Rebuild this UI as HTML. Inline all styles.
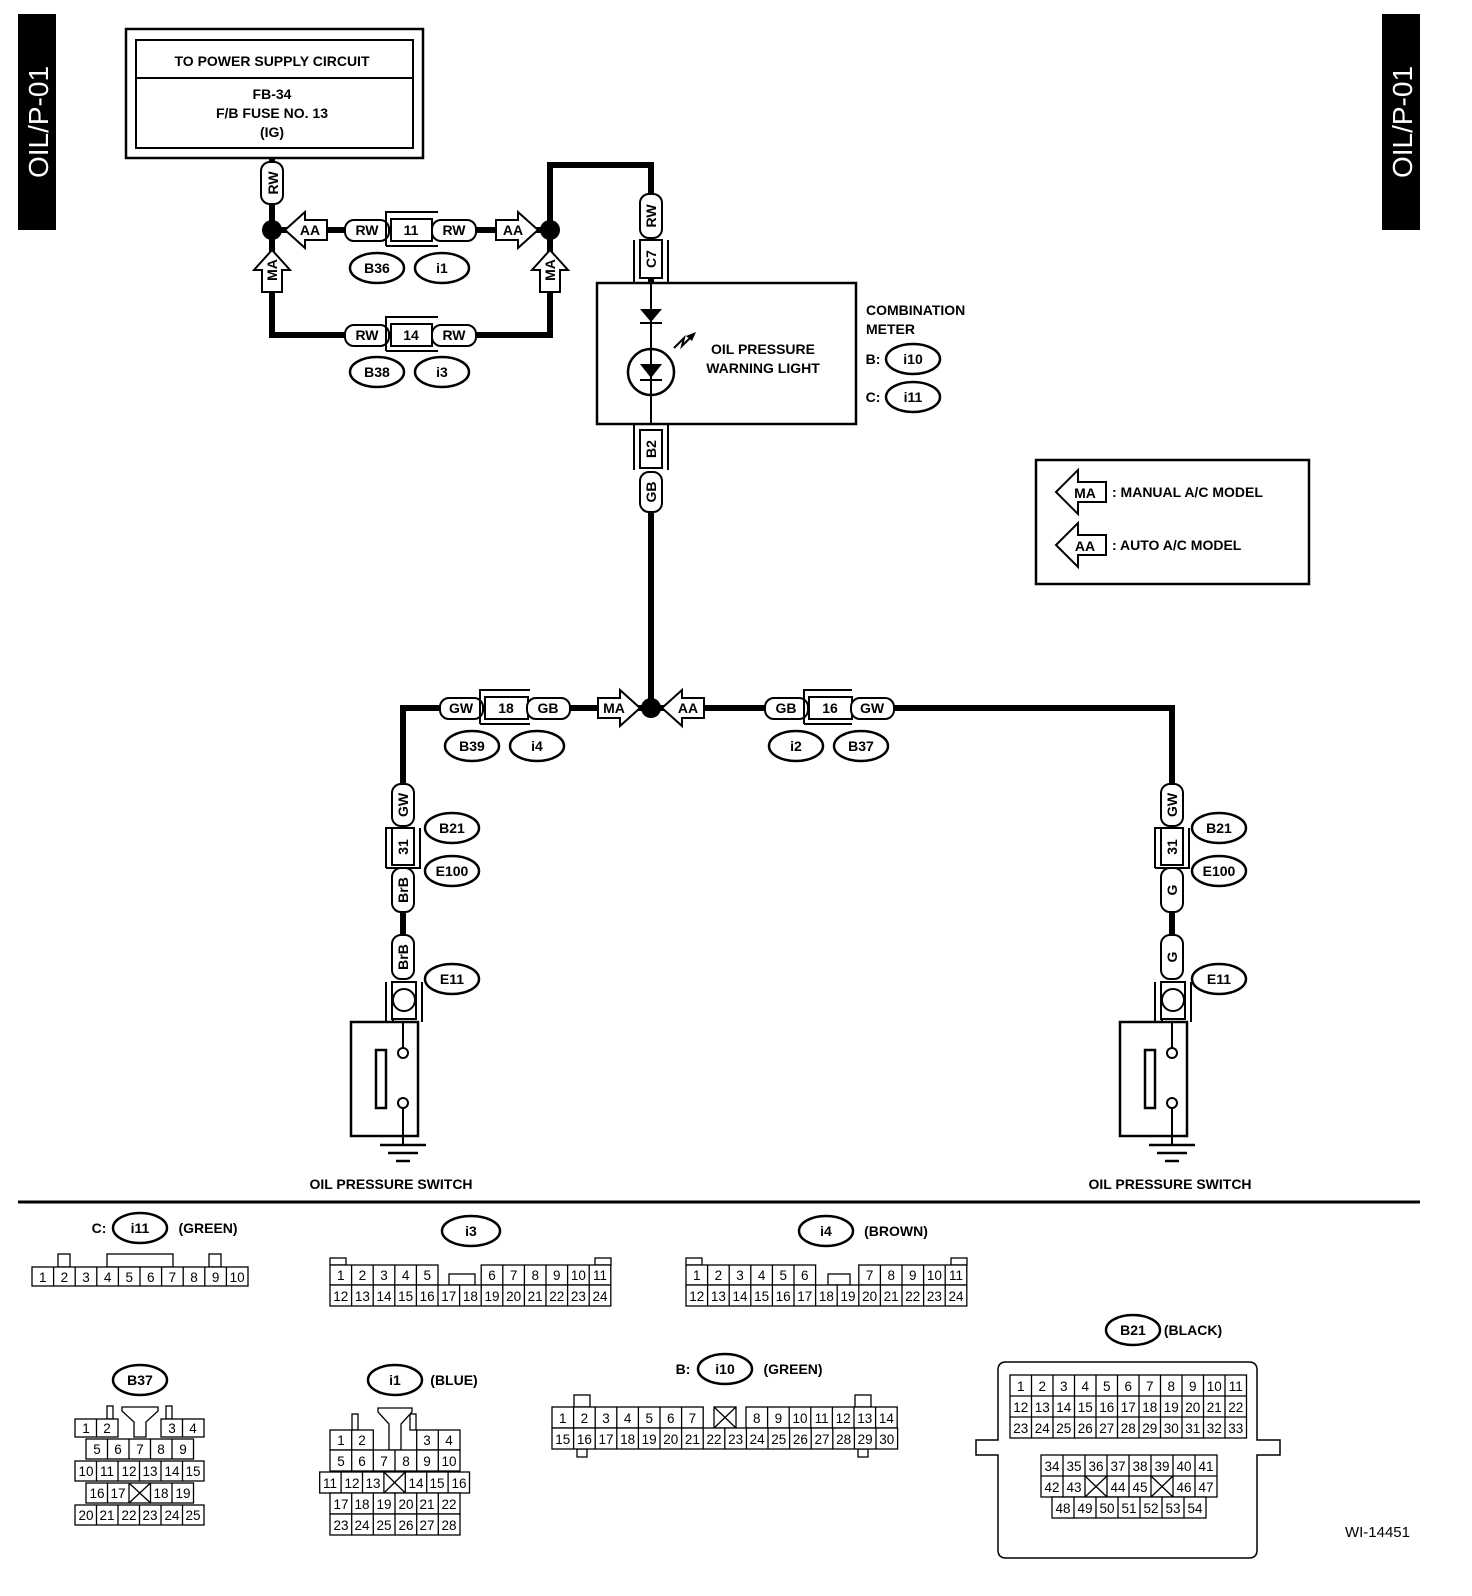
<!DOCTYPE html>
<html><head><meta charset="utf-8"><style>
html,body{margin:0;padding:0;background:#fff}
svg{display:block}
text{font-family:"Liberation Sans",Arial,sans-serif}
.b{font-weight:bold;font-size:14px}
.n{font-size:13.5px}
.w{stroke:#000;stroke-width:6;fill:none}
.t{stroke:#000;stroke-width:2;fill:#fff}
.o{stroke:#000;stroke-width:2.5;fill:#fff}
.g{stroke:#000;stroke-width:1.3;fill:#fff}
</style></head><body>
<svg width="1472" height="1596" viewBox="0 0 1472 1596" xmlns="http://www.w3.org/2000/svg" text-anchor="middle">
<!-- side tabs -->
<rect x="18" y="14" width="38" height="216" fill="#000"/>
<text transform="translate(48,122) rotate(-90)" fill="#fff" font-size="28">OIL/P-01</text>
<rect x="1382" y="14" width="38" height="216" fill="#000"/>
<text transform="translate(1412,122) rotate(-90)" fill="#fff" font-size="28">OIL/P-01</text>

<!-- power box -->
<rect x="126" y="29" width="297" height="129" fill="none" stroke="#000" stroke-width="2.5"/>
<rect x="136" y="40" width="277" height="108" fill="none" stroke="#000" stroke-width="2"/>
<line x1="136" y1="78" x2="413" y2="78" stroke="#000" stroke-width="2"/>
<text x="272" y="66" class="b" font-weight="normal">TO POWER SUPPLY CIRCUIT</text>
<text x="272" y="99" class="b">FB-34</text>
<text x="272" y="118" class="b">F/B FUSE NO. 13</text>
<text x="272" y="137" class="b">(IG)</text>

<!-- wires top -->
<path class="w" d="M272 158 V335 H550 V230 M272 230 H550 M550 230 V165 H651 V283"/>
<circle cx="272" cy="230" r="10"/>
<circle cx="550" cy="230" r="10"/>
<!-- RW vertical under box -->
<rect x="261" y="162" width="22" height="42" rx="9" class="t"/>
<text transform="translate(278,183) rotate(-90)" class="b" font-size="12">RW</text>

<!-- top row items -->
<g transform="translate(285,230) scale(-1,1)"><polygon class="t" points="0,0 -20,-18 -20,-10 -42,-10 -42,10 -20,10 -20,18"/></g>
<text x="310" y="235" class="b">AA</text>
<rect x="345" y="220" width="44" height="21" rx="9" class="t"/><text x="367" y="235" class="b">RW</text>
<path d="M386 246 V212 H438" fill="none" stroke="#000" stroke-width="2"/>
<path d="M386 246 H438" fill="none" stroke="#000" stroke-width="2"/>
<rect x="391" y="219" width="41" height="22" class="t"/><text x="411" y="235" class="b">11</text>
<rect x="432" y="220" width="44" height="21" rx="9" class="t"/><text x="454" y="235" class="b">RW</text>
<g transform="translate(538,230)"><polygon class="t" points="0,0 -20,-18 -20,-10 -42,-10 -42,10 -20,10 -20,18"/></g>
<text x="513" y="235" class="b">AA</text>
<ellipse cx="377" cy="268" rx="27" ry="15" class="o"/><text x="377" y="273" class="b">B36</text>
<ellipse cx="442" cy="268" rx="27" ry="15" class="o"/><text x="442" y="273" class="b">i1</text>

<!-- MA vertical arrows -->
<g transform="translate(272,250) rotate(-90)"><polygon class="t" points="0,0 -20,-18 -20,-10 -42,-10 -42,10 -20,10 -20,18"/></g>
<text transform="translate(277,270) rotate(-90)" class="b">MA</text>
<g transform="translate(550,250) rotate(-90)"><polygon class="t" points="0,0 -20,-18 -20,-10 -42,-10 -42,10 -20,10 -20,18"/></g>
<text transform="translate(555,270) rotate(-90)" class="b">MA</text>

<!-- bottom loop items -->
<rect x="345" y="325" width="44" height="21" rx="9" class="t"/><text x="367" y="340" class="b">RW</text>
<path d="M386 351 V317 H438 M386 351 H438" fill="none" stroke="#000" stroke-width="2"/>
<rect x="391" y="324" width="41" height="22" class="t"/><text x="411" y="340" class="b">14</text>
<rect x="432" y="325" width="44" height="21" rx="9" class="t"/><text x="454" y="340" class="b">RW</text>
<ellipse cx="377" cy="372" rx="27" ry="15" class="o"/><text x="377" y="377" class="b">B38</text>
<ellipse cx="442" cy="372" rx="27" ry="15" class="o"/><text x="442" y="377" class="b">i3</text>

<!-- RW / C7 on meter input -->
<rect x="640" y="194" width="22" height="44" rx="9" class="t"/>
<text transform="translate(656,216) rotate(-90)" class="b" font-size="13">RW</text>
<path d="M634 283 V240 M668 283 V240" stroke="#000" stroke-width="2"/>
<rect x="640" y="240" width="22" height="38" class="t"/>
<text transform="translate(656,259) rotate(-90)" class="b" font-size="13">C7</text>

<!-- meter box -->
<rect x="597" y="283" width="259" height="141" fill="none" stroke="#000" stroke-width="2.5"/>
<line x1="651" y1="283" x2="651" y2="424" stroke="#000" stroke-width="2"/>
<polygon points="640,309 662,309 651,322"/>
<line x1="640" y1="323" x2="662" y2="323" stroke="#000" stroke-width="2"/>
<circle cx="661" cy="372" r="0" />
<circle cx="651" cy="372" r="23" fill="none" stroke="#000" stroke-width="2.5"/>
<polygon points="640,364 662,364 651,378"/>
<line x1="640" y1="380" x2="662" y2="380" stroke="#000" stroke-width="2"/>
<path d="M674 348 L684 338 L682 346 L692 336" fill="none" stroke="#000" stroke-width="2"/>
<polygon points="696,332 686,336 692,341"/>
<text x="763" y="354" class="b">OIL PRESSURE</text>
<text x="763" y="373" class="b">WARNING LIGHT</text>
<text x="866" y="315" class="b" text-anchor="start">COMBINATION</text>
<text x="866" y="334" class="b" text-anchor="start">METER</text>
<text x="873" y="364" class="b">B:</text>
<ellipse cx="913" cy="359" rx="27" ry="15" class="o"/><text x="913" y="364" class="b">i10</text>
<text x="873" y="402" class="b">C:</text>
<ellipse cx="913" cy="397" rx="27" ry="15" class="o"/><text x="913" y="402" class="b">i11</text>

<!-- B2/GB -->
<path d="M634 424 V470 M668 424 V470" stroke="#000" stroke-width="2"/>
<rect x="640" y="430" width="22" height="38" class="t"/>
<text transform="translate(656,449) rotate(-90)" class="b" font-size="13">B2</text>
<path class="w" d="M651 510 V708"/>
<rect x="640" y="472" width="22" height="40" rx="9" class="t"/>
<text transform="translate(656,492) rotate(-90)" class="b" font-size="13">GB</text>

<!-- legend -->
<rect x="1036" y="460" width="273" height="124" fill="none" stroke="#000" stroke-width="2.5"/>
<g transform="translate(1056,492) scale(-1,1)"><polygon class="t" points="0,0 -22,-22 -22,-10 -50,-10 -50,10 -22,10 -22,22"/></g>
<text x="1085" y="498" class="b">MA</text>
<text x="1112" y="497" class="b" text-anchor="start">: MANUAL A/C MODEL</text>
<g transform="translate(1056,545) scale(-1,1)"><polygon class="t" points="0,0 -22,-22 -22,-10 -50,-10 -50,10 -22,10 -22,22"/></g>
<text x="1085" y="551" class="b">AA</text>
<text x="1112" y="550" class="b" text-anchor="start">: AUTO A/C MODEL</text>

<!-- horizontal lower wire -->
<path class="w" d="M403 785 V708 H1172 V785"/>
<circle cx="651" cy="708" r="10"/>
<rect x="440" y="698" width="43" height="21" rx="9" class="t"/><text x="461" y="713" class="b">GW</text>
<path d="M480 724 V690 H530 M480 724 H530" fill="none" stroke="#000" stroke-width="2"/>
<rect x="485" y="697" width="43" height="22" class="t"/><text x="506" y="713" class="b">18</text>
<rect x="527" y="698" width="43" height="21" rx="9" class="t"/><text x="548" y="713" class="b">GB</text>
<g transform="translate(640,708)"><polygon class="t" points="0,0 -20,-18 -20,-10 -42,-10 -42,10 -20,10 -20,18"/></g>
<text x="614" y="713" class="b">MA</text>
<g transform="translate(662,708) scale(-1,1)"><polygon class="t" points="0,0 -20,-18 -20,-10 -42,-10 -42,10 -20,10 -20,18"/></g>
<text x="688" y="713" class="b">AA</text>
<rect x="765" y="698" width="43" height="21" rx="9" class="t"/><text x="786" y="713" class="b">GB</text>
<path d="M804 724 V690 H852 M804 724 H852" fill="none" stroke="#000" stroke-width="2"/>
<rect x="809" y="697" width="43" height="22" class="t"/><text x="830" y="713" class="b">16</text>
<rect x="851" y="698" width="43" height="21" rx="9" class="t"/><text x="872" y="713" class="b">GW</text>
<ellipse cx="472" cy="746" rx="27" ry="15" class="o"/><text x="472" y="751" class="b">B39</text>
<ellipse cx="537" cy="746" rx="27" ry="15" class="o"/><text x="537" y="751" class="b">i4</text>
<ellipse cx="796" cy="746" rx="27" ry="15" class="o"/><text x="796" y="751" class="b">i2</text>
<ellipse cx="861" cy="746" rx="27" ry="15" class="o"/><text x="861" y="751" class="b">B37</text>

<!-- left branch -->
<g>
<path class="w" d="M403 905 V945"/>
<rect x="392" y="784" width="22" height="42" rx="9" class="t"/>
<text transform="translate(408,805) rotate(-90)" class="b" font-size="13">GW</text>
<path d="M386 868 V828 H414 M386 868 H420 V828" fill="none" stroke="#000" stroke-width="2"/>
<rect x="392" y="828" width="22" height="37" class="t"/>
<text transform="translate(408,847) rotate(-90)" class="b" font-size="13">31</text>
<rect x="392" y="868" width="22" height="44" rx="9" class="t"/>
<text transform="translate(408,890) rotate(-90)" class="b" font-size="13">BrB</text>
<rect x="392" y="935" width="22" height="44" rx="9" class="t"/>
<text transform="translate(408,957) rotate(-90)" class="b" font-size="13">BrB</text>
<path d="M393 1022 V982 M422 1022 V982 M386 1022 V982" fill="none" stroke="#000" stroke-width="2"/>
<rect x="392" y="982" width="24" height="37" class="t"/>
<circle cx="404" cy="1000" r="11" fill="none" stroke="#000" stroke-width="2"/>
<ellipse cx="452" cy="828" rx="27" ry="15" class="o"/><text x="452" y="833" class="b">B21</text>
<ellipse cx="452" cy="871" rx="27" ry="15" class="o"/><text x="452" y="876" class="b">E100</text>
<ellipse cx="452" cy="979" rx="27" ry="15" class="o"/><text x="452" y="984" class="b">E11</text>
<rect x="351" y="1022" width="67" height="114" fill="none" stroke="#000" stroke-width="2.5"/>
<rect x="376" y="1050" width="10" height="58" fill="none" stroke="#000" stroke-width="2.5"/>
<path d="M403 1022 V1048 M403 1108 V1145" stroke="#000" stroke-width="2"/>
<circle cx="403" cy="1053" r="5" fill="#fff" stroke="#000" stroke-width="2"/>
<circle cx="403" cy="1103" r="5" fill="#fff" stroke="#000" stroke-width="2"/>
<path d="M380 1145 H426 M388 1153 H418 M396 1161 H410" stroke="#000" stroke-width="2.5"/>
<text x="391" y="1189" class="b">OIL PRESSURE SWITCH</text>
</g>
<!-- right branch -->
<g transform="translate(769,0)">
<path class="w" d="M403 905 V945"/>
<rect x="392" y="784" width="22" height="42" rx="9" class="t"/>
<text transform="translate(408,805) rotate(-90)" class="b" font-size="13">GW</text>
<path d="M386 868 V828 H414 M386 868 H420 V828" fill="none" stroke="#000" stroke-width="2"/>
<rect x="392" y="828" width="22" height="37" class="t"/>
<text transform="translate(408,847) rotate(-90)" class="b" font-size="13">31</text>
<rect x="392" y="868" width="22" height="44" rx="9" class="t"/>
<text transform="translate(408,890) rotate(-90)" class="b" font-size="13">G</text>
<rect x="392" y="935" width="22" height="44" rx="9" class="t"/>
<text transform="translate(408,957) rotate(-90)" class="b" font-size="13">G</text>
<path d="M393 1022 V982 M422 1022 V982 M386 1022 V982" fill="none" stroke="#000" stroke-width="2"/>
<rect x="392" y="982" width="24" height="37" class="t"/>
<circle cx="404" cy="1000" r="11" fill="none" stroke="#000" stroke-width="2"/>
<ellipse cx="450" cy="828" rx="27" ry="15" class="o"/><text x="450" y="833" class="b">B21</text>
<ellipse cx="450" cy="871" rx="27" ry="15" class="o"/><text x="450" y="876" class="b">E100</text>
<ellipse cx="450" cy="979" rx="27" ry="15" class="o"/><text x="450" y="984" class="b">E11</text>
<rect x="351" y="1022" width="67" height="114" fill="none" stroke="#000" stroke-width="2.5"/>
<rect x="376" y="1050" width="10" height="58" fill="none" stroke="#000" stroke-width="2.5"/>
<path d="M403 1022 V1048 M403 1108 V1145" stroke="#000" stroke-width="2"/>
<circle cx="403" cy="1053" r="5" fill="#fff" stroke="#000" stroke-width="2"/>
<circle cx="403" cy="1103" r="5" fill="#fff" stroke="#000" stroke-width="2"/>
<path d="M380 1145 H426 M388 1153 H418 M396 1161 H410" stroke="#000" stroke-width="2.5"/>
<text x="401" y="1189" class="b">OIL PRESSURE SWITCH</text>
</g>

<line x1="18" y1="1202" x2="1420" y2="1202" stroke="#000" stroke-width="3"/>

<!-- i11 -->
<text x="99" y="1233" class="b">C:</text>
<ellipse cx="140" cy="1228" rx="27" ry="15" class="o"/><text x="140" y="1233" class="b">i11</text>
<text x="208" y="1233" class="b">(GREEN)</text>
<g class="n">
<rect x="58" y="1254" width="12" height="13" class="g"/><rect x="107" y="1254" width="66" height="13" class="g"/><rect x="209" y="1254" width="12" height="13" class="g"/>
<rect x="32" y="1267" width="216" height="19" class="g"/>
<path d="M53.6 1267V1286M75.2 1267V1286M96.8 1267V1286M118.4 1267V1286M140 1267V1286M161.6 1267V1286M183.2 1267V1286M204.8 1267V1286M226.4 1267V1286" stroke="#000" stroke-width="1.3"/>
<text x="42.8" y="1282">1</text><text x="64.4" y="1282">2</text><text x="86" y="1282">3</text><text x="107.6" y="1282">4</text><text x="129.2" y="1282">5</text><text x="150.8" y="1282">6</text><text x="172.4" y="1282">7</text><text x="194" y="1282">8</text><text x="215.6" y="1282">9</text><text x="237.2" y="1282">10</text>
</g>

<!-- i3 -->
<ellipse cx="471" cy="1231" rx="29" ry="15" class="o"/><text x="471" y="1236" class="b">i3</text>
<g class="n">
<rect x="330" y="1258" width="16" height="7" class="g"/><rect x="595" y="1258" width="16" height="7" class="g"/>
<rect x="449" y="1274" width="26" height="11" class="g"/>
<rect x="330" y="1265" width="108" height="20" class="g"/><rect x="481.2" y="1265" width="129.6" height="20" class="g"/>
<rect x="330" y="1285" width="280.8" height="21" class="g"/>
<path d="M351.6 1265V1285M373.2 1265V1285M394.8 1265V1285M416.4 1265V1285M502.8 1265V1285M524.4 1265V1285M546 1265V1285M567.6 1265V1285M589.2 1265V1285 M351.6 1285V1306M373.2 1285V1306M394.8 1285V1306M416.4 1285V1306M438 1285V1306M459.6 1285V1306M481.2 1285V1306M502.8 1285V1306M524.4 1285V1306M546 1285V1306M567.6 1285V1306M589.2 1285V1306" stroke="#000" stroke-width="1.3"/>
<text x="340.8" y="1280">1</text><text x="362.4" y="1280">2</text><text x="384" y="1280">3</text><text x="405.6" y="1280">4</text><text x="427.2" y="1280">5</text>
<text x="492" y="1280">6</text><text x="513.6" y="1280">7</text><text x="535.2" y="1280">8</text><text x="556.8" y="1280">9</text><text x="578.4" y="1280">10</text><text x="600" y="1280">11</text>
<text x="340.8" y="1301">12</text><text x="362.4" y="1301">13</text><text x="384" y="1301">14</text><text x="405.6" y="1301">15</text><text x="427.2" y="1301">16</text><text x="448.8" y="1301">17</text><text x="470.4" y="1301">18</text><text x="492" y="1301">19</text><text x="513.6" y="1301">20</text><text x="535.2" y="1301">21</text><text x="556.8" y="1301">22</text><text x="578.4" y="1301">23</text><text x="600" y="1301">24</text>
</g>

<!-- i4 -->
<ellipse cx="826" cy="1231" rx="27" ry="15" class="o"/><text x="826" y="1236" class="b">i4</text>
<text x="896" y="1236" class="b">(BROWN)</text>
<g class="n">
<rect x="686" y="1258" width="16" height="7" class="g"/><rect x="951" y="1258" width="16" height="7" class="g"/>
<rect x="828" y="1274" width="22" height="11" class="g"/>
<rect x="686" y="1265" width="129.6" height="20" class="g"/><rect x="858.8" y="1265" width="108" height="20" class="g"/>
<rect x="686" y="1285" width="280.8" height="21" class="g"/>
<path d="M707.6 1265V1285M729.2 1265V1285M750.8 1265V1285M772.4 1265V1285M794 1265V1285M880.4 1265V1285M902 1265V1285M923.6 1265V1285M945.2 1265V1285 M707.6 1285V1306M729.2 1285V1306M750.8 1285V1306M772.4 1285V1306M794 1285V1306M815.6 1285V1306M837.2 1285V1306M858.8 1285V1306M880.4 1285V1306M902 1285V1306M923.6 1285V1306M945.2 1285V1306" stroke="#000" stroke-width="1.3"/>
<text x="696.8" y="1280">1</text><text x="718.4" y="1280">2</text><text x="740" y="1280">3</text><text x="761.6" y="1280">4</text><text x="783.2" y="1280">5</text><text x="804.8" y="1280">6</text>
<text x="869.6" y="1280">7</text><text x="891.2" y="1280">8</text><text x="912.8" y="1280">9</text><text x="934.4" y="1280">10</text><text x="956" y="1280">11</text>
<text x="696.8" y="1301">12</text><text x="718.4" y="1301">13</text><text x="740" y="1301">14</text><text x="761.6" y="1301">15</text><text x="783.2" y="1301">16</text><text x="804.8" y="1301">17</text><text x="826.4" y="1301">18</text><text x="848" y="1301">19</text><text x="869.6" y="1301">20</text><text x="891.2" y="1301">21</text><text x="912.8" y="1301">22</text><text x="934.4" y="1301">23</text><text x="956" y="1301">24</text>
</g>

<!-- B37 -->
<ellipse cx="140" cy="1380" rx="27" ry="15" class="o"/><text x="140" y="1385" class="b">B37</text>
<g class="n">
<rect x="107" y="1406" width="6" height="13" class="g"/><rect x="166" y="1406" width="6" height="13" class="g"/>
<polygon points="122,1407 158,1407 158,1411 146,1422 146,1437 134,1437 134,1422 122,1411" class="g"/>
<rect x="75" y="1419" width="43" height="18" class="g"/><line x1="96.5" y1="1419" x2="96.5" y2="1437" stroke="#000" stroke-width="1.3"/>
<rect x="161" y="1419" width="43" height="18" class="g"/><line x1="182.5" y1="1419" x2="182.5" y2="1437" stroke="#000" stroke-width="1.3"/>
<text x="86" y="1433">1</text><text x="107" y="1433">2</text><text x="172" y="1433">3</text><text x="193" y="1433">4</text>
<rect x="86" y="1439" width="107.5" height="20" class="g"/>
<path d="M107.5 1439V1459M129 1439V1459M150.5 1439V1459M172 1439V1459" stroke="#000" stroke-width="1.3"/>
<text x="97" y="1454">5</text><text x="118" y="1454">6</text><text x="140" y="1454">7</text><text x="161" y="1454">8</text><text x="183" y="1454">9</text>
<rect x="75" y="1461" width="129" height="20" class="g"/>
<path d="M96.5 1461V1481M118 1461V1481M139.5 1461V1481M161 1461V1481M182.5 1461V1481" stroke="#000" stroke-width="1.3"/>
<text x="86" y="1476">10</text><text x="107" y="1476">11</text><text x="129" y="1476">12</text><text x="150" y="1476">13</text><text x="172" y="1476">14</text><text x="193" y="1476">15</text>
<rect x="86" y="1483" width="107.5" height="20" class="g"/>
<path d="M107.5 1483V1503M129 1483V1503M150.5 1483V1503M172 1483V1503M129 1483L150.5 1503M150.5 1483L129 1503" stroke="#000" stroke-width="1.3"/>
<text x="97" y="1498">16</text><text x="118" y="1498">17</text><text x="161" y="1498">18</text><text x="183" y="1498">19</text>
<rect x="75" y="1505" width="129" height="20" class="g"/>
<path d="M96.5 1505V1525M118 1505V1525M139.5 1505V1525M161 1505V1525M182.5 1505V1525" stroke="#000" stroke-width="1.3"/>
<text x="86" y="1520">20</text><text x="107" y="1520">21</text><text x="129" y="1520">22</text><text x="150" y="1520">23</text><text x="172" y="1520">24</text><text x="193" y="1520">25</text>
</g>

<!-- i1 -->
<ellipse cx="395" cy="1380" rx="27" ry="15" class="o"/><text x="395" y="1385" class="b">i1</text>
<text x="454" y="1385" class="b">(BLUE)</text>
<g class="n">
<rect x="352" y="1414" width="6" height="16" class="g"/><rect x="410" y="1414" width="6" height="16" class="g"/>
<polygon points="378,1408 412,1408 412,1412 401,1424 401,1450 389,1450 389,1424 378,1412" class="g"/>
<rect x="330" y="1430" width="43.3" height="20" class="g"/><line x1="351.7" y1="1430" x2="351.7" y2="1450" stroke="#000" stroke-width="1.3"/>
<rect x="416.7" y="1430" width="43.3" height="20" class="g"/><line x1="438.3" y1="1430" x2="438.3" y2="1450" stroke="#000" stroke-width="1.3"/>
<text x="341" y="1445">1</text><text x="362" y="1445">2</text><text x="427" y="1445">3</text><text x="449" y="1445">4</text>
<rect x="330" y="1450" width="130" height="21" class="g"/>
<path d="M351.7 1450V1471M373.3 1450V1471M395 1450V1471M416.7 1450V1471M438.3 1450V1471" stroke="#000" stroke-width="1.3"/>
<text x="341" y="1466">5</text><text x="362" y="1466">6</text><text x="384" y="1466">7</text><text x="406" y="1466">8</text><text x="427" y="1466">9</text><text x="449" y="1466">10</text>
<rect x="319.7" y="1472" width="149.8" height="21" class="g"/>
<path d="M341.1 1472V1493M362.5 1472V1493M383.9 1472V1493M405.3 1472V1493M426.7 1472V1493M448.1 1472V1493M383.9 1472L405.3 1493M405.3 1472L383.9 1493" stroke="#000" stroke-width="1.3"/>
<text x="330" y="1488">11</text><text x="352" y="1488">12</text><text x="373" y="1488">13</text><text x="416" y="1488">14</text><text x="437" y="1488">15</text><text x="459" y="1488">16</text>
<rect x="330" y="1493" width="130" height="21" class="g"/>
<path d="M351.7 1493V1514M373.3 1493V1514M395 1493V1514M416.7 1493V1514M438.3 1493V1514" stroke="#000" stroke-width="1.3"/>
<text x="341" y="1509">17</text><text x="362" y="1509">18</text><text x="384" y="1509">19</text><text x="406" y="1509">20</text><text x="427" y="1509">21</text><text x="449" y="1509">22</text>
<rect x="330" y="1514" width="130" height="21" class="g"/>
<path d="M351.7 1514V1535M373.3 1514V1535M395 1514V1535M416.7 1514V1535M438.3 1514V1535" stroke="#000" stroke-width="1.3"/>
<text x="341" y="1530">23</text><text x="362" y="1530">24</text><text x="384" y="1530">25</text><text x="406" y="1530">26</text><text x="427" y="1530">27</text><text x="449" y="1530">28</text>
</g>

<!-- i10 -->
<text x="683" y="1374" class="b">B:</text>
<ellipse cx="725" cy="1369" rx="27" ry="15" class="o"/><text x="725" y="1374" class="b">i10</text>
<text x="793" y="1374" class="b">(GREEN)</text>
<g class="n">
<rect x="574" y="1395" width="16" height="12" class="g"/><rect x="855" y="1395" width="16" height="12" class="g"/>
<rect x="577" y="1449" width="10" height="8" class="g"/><rect x="858" y="1449" width="10" height="8" class="g"/>
<rect x="552" y="1407" width="151.2" height="21" class="g"/>
<rect x="714" y="1407" width="22" height="21" class="g"/><path d="M714 1407L736 1428M736 1407L714 1428" stroke="#000" stroke-width="1.3"/>
<rect x="746" y="1407" width="151.2" height="21" class="g"/>
<rect x="552" y="1428" width="345.6" height="21" class="g"/>
<path d="M573.6 1407V1428M595.2 1407V1428M616.8 1407V1428M638.4 1407V1428M660 1407V1428M681.6 1407V1428M767.6 1407V1428M789.2 1407V1428M810.8 1407V1428M832.4 1407V1428M854 1407V1428M875.6 1407V1428 M573.6 1428V1449M595.2 1428V1449M616.8 1428V1449M638.4 1428V1449M660 1428V1449M681.6 1428V1449M703.2 1428V1449M724.8 1428V1449M746.4 1428V1449M768 1428V1449M789.6 1428V1449M811.2 1428V1449M832.8 1428V1449M854.4 1428V1449M876 1428V1449" stroke="#000" stroke-width="1.3"/>
<text x="562.8" y="1423">1</text><text x="584.4" y="1423">2</text><text x="606" y="1423">3</text><text x="627.6" y="1423">4</text><text x="649.2" y="1423">5</text><text x="670.8" y="1423">6</text><text x="692.4" y="1423">7</text>
<text x="756.8" y="1423">8</text><text x="778.4" y="1423">9</text><text x="800" y="1423">10</text><text x="821.6" y="1423">11</text><text x="843.2" y="1423">12</text><text x="864.8" y="1423">13</text><text x="886.4" y="1423">14</text>
<text x="562.8" y="1444">15</text><text x="584.4" y="1444">16</text><text x="606" y="1444">17</text><text x="627.6" y="1444">18</text><text x="649.2" y="1444">19</text><text x="670.8" y="1444">20</text><text x="692.4" y="1444">21</text><text x="714" y="1444">22</text><text x="735.6" y="1444">23</text><text x="757.2" y="1444">24</text><text x="778.8" y="1444">25</text><text x="800.4" y="1444">26</text><text x="822" y="1444">27</text><text x="843.6" y="1444">28</text><text x="865.2" y="1444">29</text><text x="886.8" y="1444">30</text>
</g>

<!-- B21 -->
<ellipse cx="1133" cy="1330" rx="27" ry="15" class="o"/><text x="1133" y="1335" class="b">B21</text>
<text x="1193" y="1335" class="b">(BLACK)</text>
<g class="n">
<path d="M1006 1362 H1249 Q1257 1362 1257 1370 V1440 H1280 V1455 H1257 V1550 Q1257 1558 1249 1558 H1006 Q998 1558 998 1550 V1455 H976 V1440 H998 V1370 Q998 1362 1006 1362 Z" fill="#fff" stroke="#000" stroke-width="1.5"/>
<rect x="1010" y="1375" width="236.5" height="63" class="g"/>
<path d="M1010 1396H1246.5M1010 1417H1246.5M1031.5 1375V1438M1053 1375V1438M1074.5 1375V1438M1096 1375V1438M1117.5 1375V1438M1139 1375V1438M1160.5 1375V1438M1182 1375V1438M1203.5 1375V1438M1225 1375V1438" stroke="#000" stroke-width="1.3"/>
<text x="1020.75" y="1391">1</text><text x="1042.25" y="1391">2</text><text x="1063.75" y="1391">3</text><text x="1085.25" y="1391">4</text><text x="1106.75" y="1391">5</text><text x="1128.25" y="1391">6</text><text x="1149.75" y="1391">7</text><text x="1171.25" y="1391">8</text><text x="1192.75" y="1391">9</text><text x="1214.25" y="1391">10</text><text x="1235.75" y="1391">11</text>
<text x="1020.75" y="1412">12</text><text x="1042.25" y="1412">13</text><text x="1063.75" y="1412">14</text><text x="1085.25" y="1412">15</text><text x="1106.75" y="1412">16</text><text x="1128.25" y="1412">17</text><text x="1149.75" y="1412">18</text><text x="1171.25" y="1412">19</text><text x="1192.75" y="1412">20</text><text x="1214.25" y="1412">21</text><text x="1235.75" y="1412">22</text>
<text x="1020.75" y="1433">23</text><text x="1042.25" y="1433">24</text><text x="1063.75" y="1433">25</text><text x="1085.25" y="1433">26</text><text x="1106.75" y="1433">27</text><text x="1128.25" y="1433">28</text><text x="1149.75" y="1433">29</text><text x="1171.25" y="1433">30</text><text x="1192.75" y="1433">31</text><text x="1214.25" y="1433">32</text><text x="1235.75" y="1433">33</text>
<rect x="1041" y="1455" width="176" height="42" class="g"/>
<path d="M1041 1476H1217M1063 1455V1497M1085 1455V1497M1107 1455V1497M1129 1455V1497M1151 1455V1497M1173 1455V1497M1195 1455V1497M1085 1476L1107 1497M1107 1476L1085 1497M1151 1476L1173 1497M1173 1476L1151 1497" stroke="#000" stroke-width="1.3"/>
<text x="1052" y="1471">34</text><text x="1074" y="1471">35</text><text x="1096" y="1471">36</text><text x="1118" y="1471">37</text><text x="1140" y="1471">38</text><text x="1162" y="1471">39</text><text x="1184" y="1471">40</text><text x="1206" y="1471">41</text>
<text x="1052" y="1492">42</text><text x="1074" y="1492">43</text><text x="1118" y="1492">44</text><text x="1140" y="1492">45</text><text x="1184" y="1492">46</text><text x="1206" y="1492">47</text>
<rect x="1052" y="1497" width="154" height="21" class="g"/>
<path d="M1074 1497V1518M1096 1497V1518M1118 1497V1518M1140 1497V1518M1162 1497V1518M1184 1497V1518" stroke="#000" stroke-width="1.3"/>
<text x="1063" y="1513">48</text><text x="1085" y="1513">49</text><text x="1107" y="1513">50</text><text x="1129" y="1513">51</text><text x="1151" y="1513">52</text><text x="1173" y="1513">53</text><text x="1195" y="1513">54</text>
</g>

<text x="1410" y="1537" text-anchor="end" font-size="15">WI-14451</text>
</svg>
</body></html>
